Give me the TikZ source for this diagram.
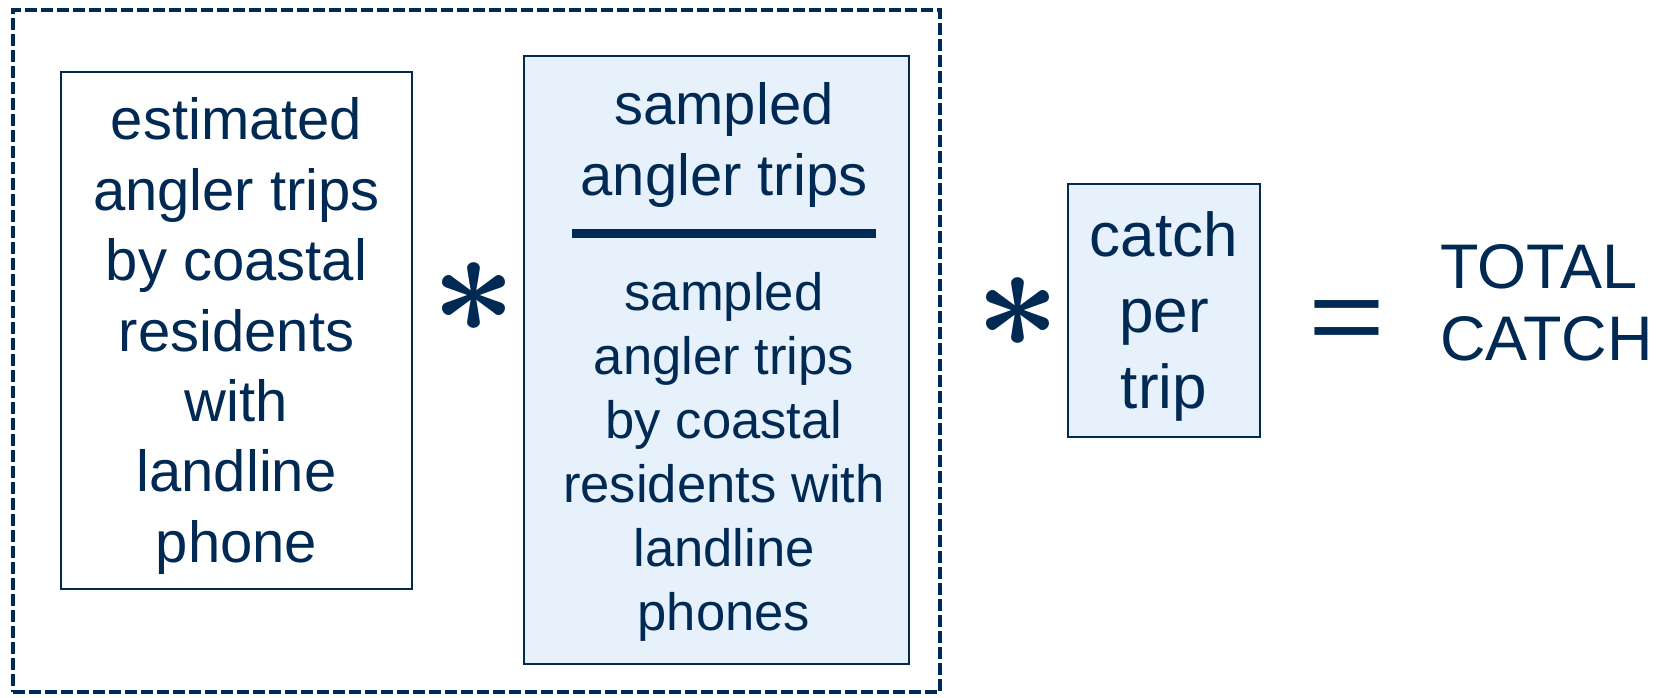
\documentclass[tikz,border=0pt]{standalone}
\usepackage{fix-cm}
\usepackage{fontspec}
\setmainfont{Liberation Sans}
\usepackage{graphicx}
\definecolor{navy}{RGB}{0,41,84}
\definecolor{paleblue}{RGB}{230,241,252}
\begin{document}
\begin{tikzpicture}[x=0.5pt,y=-0.5pt,
  every node/.style={text=navy, inner sep=0pt},
  plainbox/.style={draw=navy, line width=1pt, fill=white},
  shadebox/.style={draw=navy, line width=1pt, fill=paleblue},
  groupframe/.style={draw=navy, line width=2pt, dash pattern=on 6pt off 2pt},
  bigtext/.style={align=center, font=\fontsize{29}{35.2}\selectfont},
  optext/.style={font=\fontsize{74}{74}\selectfont\boldmath}]
\useasboundingbox (0,0) rectangle (1670,697);
\node[groupframe, minimum width=463.5pt, minimum height=341pt] (group) at (476.5,351) {};
\node[plainbox, minimum width=175.5pt, minimum height=258.5pt] (est) at (236.5,330.5) {};
\node[bigtext] (esttext) at (236.5,336)
  {estimated\\angler trips\\by coastal\\residents\\with\\landline\\phone};
\node[optext] (times1) at (474,298) {$\ast$};
\node[shadebox, minimum width=192.5pt, minimum height=304pt] (ratio) at (716.5,360) {};
\node[align=center, font=\fontsize{29}{35.5}\selectfont] (num) at (724,145) {sampled\\angler trips};
\coordinate (barL) at (572,233);
\coordinate (barR) at (876,233);
\draw[navy, line width=4.5pt] (barL) -- (barR);
\node[align=center, font=\fontsize{26.3}{32}\selectfont] (den) at (724,457)
  {sampled\\angler trips\\by coastal\\residents with\\landline\\phones};
\node[optext] (times2) at (1018,313) {$\ast$};
\node[shadebox, minimum width=96pt, minimum height=126.5pt] (cpt) at (1164,310.5) {};
\node[align=center, font=\fontsize{31}{38}\selectfont] (cpttext) at (1164,316) {catch\\per\\trip};
\node[anchor=base, font=\fontsize{54}{54}\selectfont] (eq) at (1347,353) {\scalebox{1.22}[1]{=}};
\node[anchor=west, align=left, font=\fontsize{31.5}{36}\selectfont] (total) at (1440,303) {TOTAL\\CATCH};
\end{tikzpicture}
\end{document}
